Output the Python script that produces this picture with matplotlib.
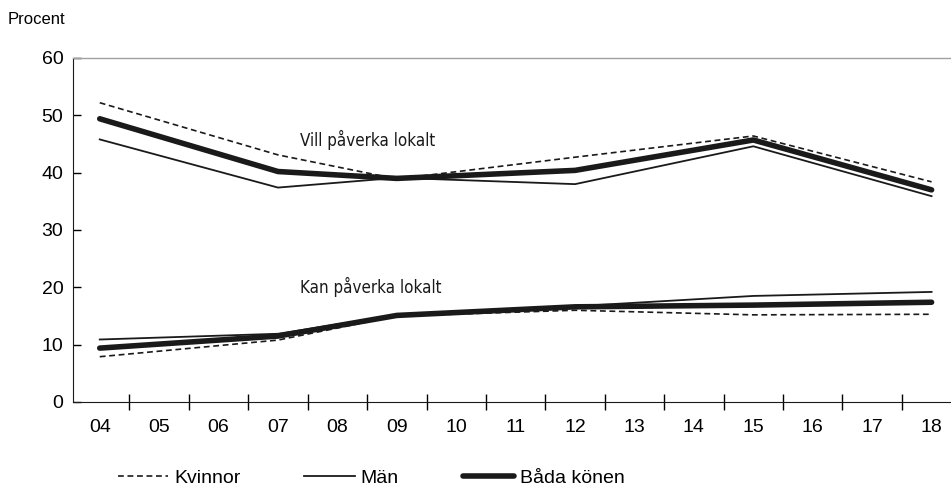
import numpy as np
import matplotlib.pyplot as plt
from matplotlib.ticker import FixedLocator

# years on the axis (two digit labels)
years = ["04", "05", "06", "07", "08", "09", "10", "11", "12", "13", "14", "15", "16", "17", "18"]
survey_years = ["04", "07", "09", "12", "15", "18"]

# "Vill påverka lokalt"
vill_kvinnor = [52.2, 43.1, 38.9, 42.7, 46.4, 38.4]
vill_man = [45.8, 37.4, 39.1, 38.0, 44.6, 35.9]
vill_bada = [49.4, 40.2, 39.0, 40.4, 45.7, 37.0]

# "Kan påverka lokalt"
kan_kvinnor = [7.9, 10.8, 15.0, 16.0, 15.2, 15.3]
kan_man = [10.9, 11.9, 15.2, 16.7, 18.5, 19.2]
kan_bada = [9.4, 11.5, 15.1, 16.6, 16.9, 17.4]

yticks = [0, 10, 20, 30, 40, 50, 60]

plt.rcParams["font.family"] = ["Liberation Sans", "DejaVu Sans"]

x = [years.index(y) for y in survey_years]

fig = plt.figure(figsize=(9.51, 4.87), dpi=100)
ax = fig.add_axes([73 / 951, 1 - 402 / 487, 877 / 951, 344 / 487])

col = "#1a1a1a"
dash = (0, (3.5, 2.2))
ax.plot(x, vill_kvinnor, color=col, lw=1.2, ls=dash, label="Kvinnor")
ax.plot(x, vill_man, color=col, lw=1.3, label="Män")
ax.plot(x, vill_bada, color=col, lw=4, solid_capstyle="round", label="Båda könen")
ax.plot(x, kan_kvinnor, color=col, lw=1.2, ls=dash)
ax.plot(x, kan_man, color=col, lw=1.3)
ax.plot(x, kan_bada, color=col, lw=4, solid_capstyle="round")

ax.text(3.37, 45.7, "Vill påverka lokalt", family="DejaVu Sans", stretch="condensed",
        fontsize=12.2, va="center", color=col)
ax.text(3.37, 20.1, "Kan påverka lokalt", family="DejaVu Sans", stretch="condensed",
        fontsize=12.2, va="center", color=col)

ax.set_xlim(-0.45, 14.31)
ax.set_ylim(0, 60)
ax.set_yticks(yticks)
ax.set_yticklabels([str(v) for v in yticks], fontsize=14)
ax.tick_params(axis="y", direction="in", length=6, width=1, pad=7)

# labels in the middle, tick marks between years
ax.set_xticks(range(len(years)))
ax.set_xticklabels(years, fontsize=14)
ax.tick_params(axis="x", length=0, pad=12)
ax.xaxis.set_minor_locator(FixedLocator(np.arange(0.5, len(years) - 1, 1)))
ax.tick_params(axis="x", which="minor", direction="inout", length=12, width=1)

ax.spines["right"].set_visible(False)
ax.spines["top"].set_color("#a0a0a0")
ax.spines["top"].set_linewidth(1)
ax.spines["left"].set_color(col)
ax.spines["bottom"].set_color(col)

fig.text(8 / 951, 1 - 20 / 487, "Procent", fontsize=12, va="center")

fig.legend(loc="center left", bbox_to_anchor=(100 / 951, 9 / 487), ncol=3, frameon=False,
           fontsize=14, handlelength=2.6, handletextpad=0.3, columnspacing=3.3)

plt.savefig("out.png", dpi=100)
